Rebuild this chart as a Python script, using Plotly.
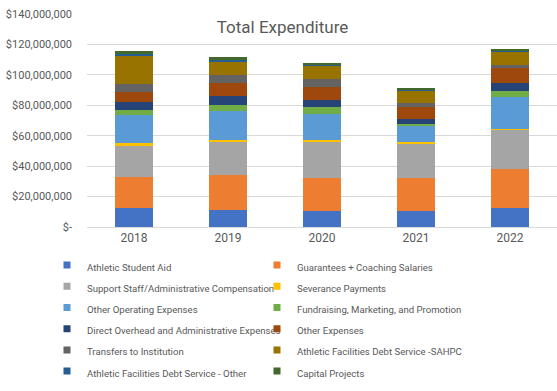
import plotly.graph_objects as go

years = ["2018", "2019", "2020", "2021", "2022"]

athletic_student_aid = [12.7e6, 11.4e6, 10.5e6, 10.5e6, 12.7e6]
guarantees_coaching = [20.2e6, 22.9e6, 22.0e6, 21.8e6, 25.5e6]
support_staff = [20.4e6, 22.2e6, 23.5e6, 22.4e6, 25.9e6]
severance = [2.0e6, 0.9e6, 1.3e6, 1.5e6, 0.4e6]
other_operating = [18.5e6, 18.6e6, 17.1e6, 10.5e6, 21.1e6]
fundraising = [3.3e6, 4.4e6, 4.6e6, 1.3e6, 4.0e6]
direct_overhead = [5.3e6, 5.9e6, 4.6e6, 3.1e6, 5.3e6]
other_expenses = [6.6e6, 8.4e6, 8.6e6, 7.9e6, 9.9e6]
transfers = [5.3e6, 5.3e6, 5.3e6, 2.6e6, 1.8e6]
debt_sahpc = [18.5e6, 8.8e6, 8.8e6, 7.9e6, 8.8e6]
debt_other = [0.9e6, 0.7e6, 0.3e6, 1.0e6, 0.4e6]
capital_projects = [1.8e6, 2.0e6, 1.0e6, 0.3e6, 0.9e6]

series_names = [
    "Athletic Student Aid",
    "Guarantees + Coaching Salaries",
    "Support Staff/Administrative Compensation",
    "Severance Payments",
    "Other Operating Expenses",
    "Fundraising, Marketing, and Promotion",
    "Direct Overhead and Administrative Expenses",
    "Other Expenses",
    "Transfers to Institution",
    "Athletic Facilities Debt Service -SAHPC",
    "Athletic Facilities Debt Service - Other",
    "Capital Projects",
]
series_values = [
    athletic_student_aid, guarantees_coaching, support_staff, severance,
    other_operating, fundraising, direct_overhead, other_expenses,
    transfers, debt_sahpc, debt_other, capital_projects,
]
colors = [
    "#4472C4", "#ED7D31", "#A5A5A5", "#FFC000", "#5B9BD5", "#70AD47",
    "#264478", "#9E480E", "#636363", "#997300", "#255E91", "#43682B",
]

tick_vals = [0, 20e6, 40e6, 60e6, 80e6, 100e6, 120e6, 140e6]
tick_text = ["$-", "$20,000,000", "$40,000,000", "$60,000,000", "$80,000,000",
             "$100,000,000", "$120,000,000", "$140,000,000"]

font_family = "Roboto, Liberation Sans, Arial, sans-serif"

fig = go.Figure()
for name, vals, col in zip(series_names, series_values, colors):
    fig.add_trace(go.Bar(
        x=years, y=vals, name=name,
        marker=dict(color=col, line=dict(width=0)),
        showlegend=False, legendgroup=name,
    ))
    # legend swatch (small square, like the original)
    fig.add_trace(go.Scatter(
        x=[None], y=[None], mode="markers",
        name='<span style="font-size:9.6px">' + name + "</span>",
        marker=dict(symbol="square", size=7, color=col),
        legendgroup=name, showlegend=True, hoverinfo="skip",
    ))

fig.update_layout(
    barmode="stack",
    bargap=0.595,
    width=557,
    height=391,
    margin=dict(l=87, r=0, t=14, b=164, autoexpand=False),
    paper_bgcolor="white",
    plot_bgcolor="white",
    font=dict(family=font_family, color="#595959", size=12),
    title=dict(
        text="Total Expenditure",
        font=dict(size=17, color="#595959", family=font_family),
        xref="container", yref="container",
        x=282.5 / 557, xanchor="center",
        y=1 - 27 / 391, yanchor="middle",
    ),
    xaxis=dict(
        showgrid=False, showline=True, linecolor="#D9D9D9", linewidth=1,
        tickfont=dict(size=12, color="#595959"), ticks="", automargin=False,
    ),
    yaxis=dict(
        range=[0, 140e6], tickvals=tick_vals, ticktext=tick_text,
        showgrid=True, gridcolor="#D9D9D9", gridwidth=1, zeroline=False,
        tickfont=dict(size=11, color="#595959"), ticks="", ticklabelstandoff=14,
        automargin=False,
    ),
    legend=dict(
        orientation="h",
        xref="container", yref="container",
        x=47 / 557, xanchor="left",
        y=1 - 249.5 / 391, yanchor="top",
        entrywidth=165, entrywidthmode="pixels",
        traceorder="normal",
        font=dict(size=14, color="#595959", family=font_family),
        itemwidth=30,
        tracegroupgap=0,
    ),
)

fig.write_html(
    "out.html",
    config={"displayModeBar": False},
    post_script="document.body.style.margin='0';document.body.style.padding='0';",
)
